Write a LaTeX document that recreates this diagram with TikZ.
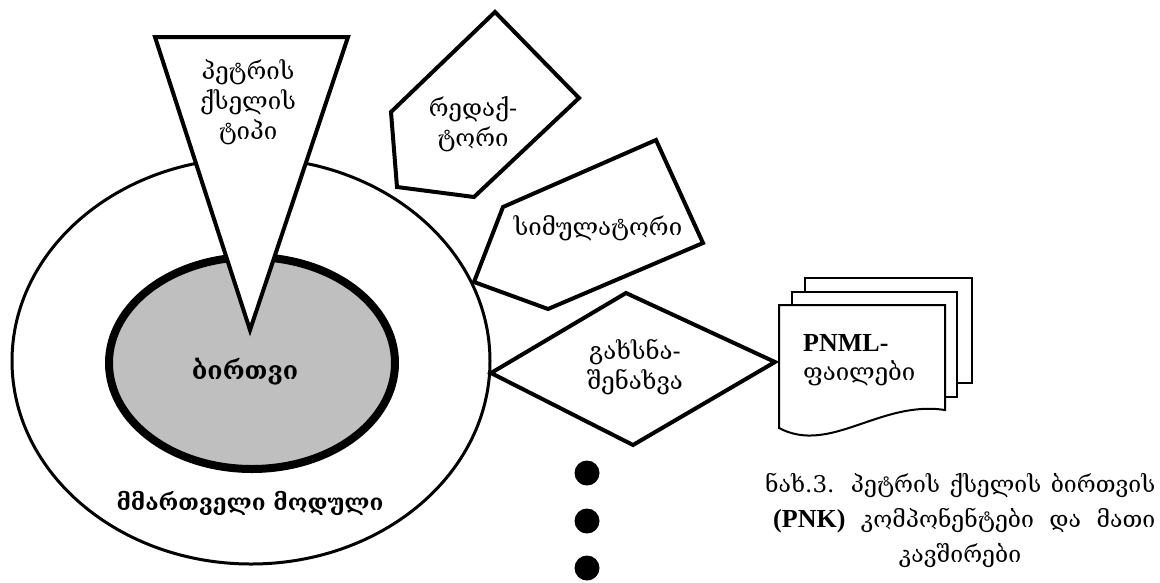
\documentclass[tikz,border=0pt]{standalone}
\usepackage{fontspec}
\setmainfont{Liberation Serif}
\newfontfamily\geo{DejaVu Serif}
\usetikzlibrary{positioning}

\tikzset{
  shp/.style={draw,line width=4pt,fill=white,line join=miter},
  doc/.style={draw,line width=2pt,fill=white},
  lbl/.style={font=\geo\fontsize{24}{30}\selectfont,align=center,inner sep=0pt},
  bld/.style={lbl,font=\geo\bfseries\fontsize{#1}{30}\selectfont},
  captxt/.style={font=\geo\fontsize{23}{28}\selectfont,inner sep=0pt,anchor=west},
}

\begin{document}
\begin{tikzpicture}[x=1pt,y=-1pt]
\useasboundingbox (0,0) rectangle (1160,582);
% module + core
\draw[line width=3pt,fill=white] (251,361) ellipse (239pt and 203pt);
\draw[line width=8pt,fill=black!25] (252,363) ellipse (143pt and 106pt);
% type
\draw[shp] (155,37) -- (348,37) -- (250,330) -- cycle;
% editor
\draw[shp] (495,12) -- (579,98) -- (474,197) -- (397,187) -- (391,112) -- cycle;
% simulator
\draw[shp] (503,207) -- (656,140) -- (703,243) -- (548,309) -- (474,282) -- cycle;
% open-save
\draw[shp] (491,373) -- (626,293) -- (775,362) -- (633,445) -- cycle;
% files
\draw[doc] (805,278) rectangle (972,383);
\draw[doc] (792,292) rectangle (957,397);
\draw[doc] (779,305) -- (945,305) -- (945,410)
  .. controls (880,400) and (830,455) .. (779,428) -- cycle;
% texts
\node[lbl] (typ) at (248,102) {პეტრის\\ქსელის\\ტიპი};
\node[lbl] (ed) at (473,124) {რედაქ-\\ტორი};
\node[lbl] (sim) at (598,228) {სიმულატორი};
\node[lbl] (io) at (635,367) {გახსნა-\\შენახვა};
\node[bld=25] (core) at (245,372) {ბირთვი};
\node[bld=22.5] (mod) at (250,503) {მმართველი მოდული};
\node[captxt,font=\bfseries\fontsize{26}{29}\selectfont] (pnml) at (803,343) {PNML-};
\node[lbl,anchor=west] (fl) at (803,373) {ფაილები};
% dots
\foreach \y in {473,521,568}
  \fill (587,\y) circle (12.5pt);
% caption
\node[captxt] (c1) at (765,485) {\makebox[390pt][s]{ნახ.3. პეტრის ქსელის ბირთვის}};
\node[captxt] (c2) at (773,521) {\makebox[382pt][s]{{\rmfamily\bfseries\fontsize{26}{29}\selectfont(PNK)} კომპონენტები და მათი}};
\node[captxt,anchor=center] (c3) at (960,556) {კავშირები};
\end{tikzpicture}
\end{document}
